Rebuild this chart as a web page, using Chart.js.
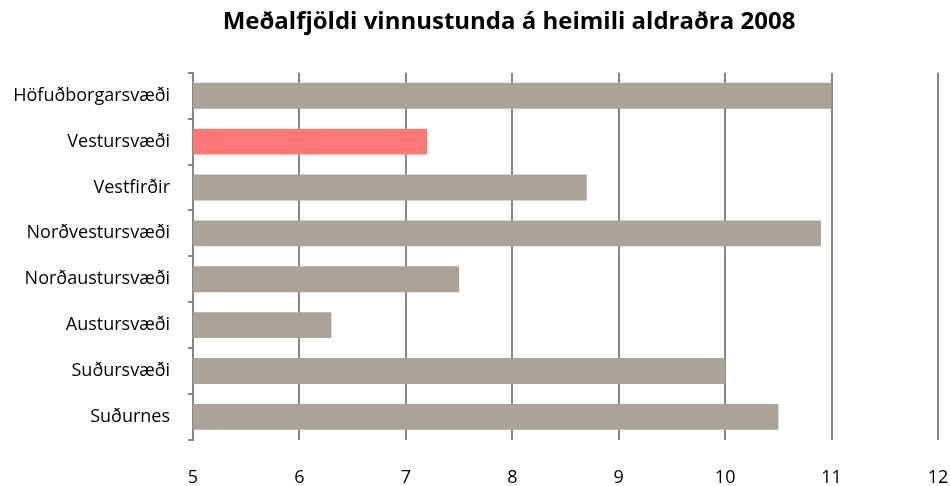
<!DOCTYPE html>
<html>
<head>
<meta charset="utf-8">
<script src="https://cdn.jsdelivr.net/npm/chart.js@4/dist/chart.umd.min.js"></script>
<style>
  html, body { margin: 0; padding: 0; background: #fff; }
  #wrap { width: 950px; height: 486px; position: relative; }
</style>
</head>
<body>
<div id="wrap"><canvas id="c" width="950" height="486"></canvas></div>
<script>
const categories = ["Höfuðborgarsvæði", "Vestursvæði", "Vestfirðir", "Norðvestursvæði", "Norðaustursvæði", "Austursvæði", "Suðursvæði", "Suðurnes"];
const values = [11.0, 7.2, 8.7, 10.9, 7.5, 6.3, 10.0, 10.5];
const barColors = ["#aba398", "#ff7878", "#aba398", "#aba398", "#aba398", "#aba398", "#aba398", "#aba398"];
const titleText = "Meðalfjöldi vinnustunda á heimili aldraðra 2008";
const xMin = 5, xMax = 12;

const FONT = "'Open Sans', 'Liberation Sans', sans-serif";

const titleShift = {
  id: 'titleShift',
  afterLayout(chart) {
    const t = chart.titleBlock;
    if (t) { t.left = 68; t.right = 950; t.width = 882; }
  }
};

new Chart(document.getElementById('c'), {
  type: 'bar',
  data: {
    labels: categories,
    datasets: [{
      data: values,
      backgroundColor: barColors,
      borderWidth: 0,
      barPercentage: 0.565,
      categoryPercentage: 1.0
    }]
  },
  plugins: [titleShift],
  options: {
    indexAxis: 'y',
    responsive: false,
    animation: false,
    devicePixelRatio: 1,
    layout: { padding: { left: 0, right: 12, top: 0, bottom: 0 } },
    plugins: {
      legend: { display: false },
      tooltip: { enabled: false },
      title: {
        display: true,
        text: titleText,
        color: '#000',
        font: { family: FONT, size: 24, weight: 'bold', lineHeight: 1.2 },
        padding: { top: 8, bottom: 36 }
      }
    },
    scales: {
      x: {
        min: xMin, max: xMax,
        ticks: { stepSize: 1, color: '#000', font: { family: FONT, size: 18, lineHeight: 0.9 }, padding: 0 },
        grid: { color: '#888888', lineWidth: 2, drawTicks: true, tickLength: 30, tickColor: 'rgba(0,0,0,0)' },
        border: { display: false }
      },
      y: {
        afterFit: (scale) => { scale.width = 193; },
        ticks: { color: '#000', font: { family: FONT, size: 18 }, padding: 18 },
        grid: { drawOnChartArea: false, offset: true, tickLength: 5, color: '#888888', lineWidth: 2 },
        border: { display: true, color: '#888888', width: 2 }
      }
    }
  }
});
</script>
</body>
</html>
